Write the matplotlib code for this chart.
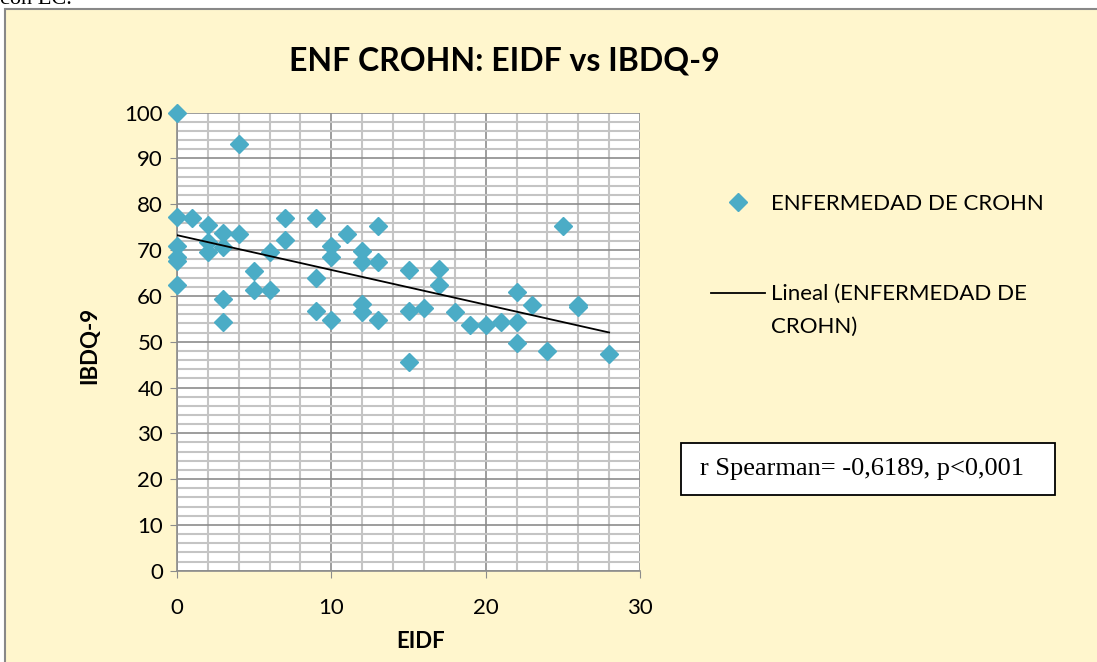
import numpy as np
import matplotlib.pyplot as plt
from matplotlib.patches import Rectangle

# EIDF (x) and IBDQ-9 (y)
eidf = [0, 4, 0, 1, 2, 3, 4, 0, 2, 2, 3, 0, 0, 0, 3, 3, 5, 5, 6, 6, 7, 7,
        9, 9, 9, 10, 10, 10, 11, 12, 12, 12, 12, 13, 13, 13, 15, 15, 15, 16,
        17, 17, 18, 19, 20, 21, 22, 22, 22, 23, 24, 25, 26, 26, 28]
ibdq = [100, 93.1, 77.2, 77, 75.4, 73.7, 73.6, 71, 71.8, 69.6, 70.7, 68.5,
        67.7, 62.3, 59.3, 54.2, 65.5, 61.3, 61.3, 69.6, 77, 72.1, 77, 63.9,
        56.8, 71, 68.5, 54.7, 73.6, 69.7, 67.4, 58.2, 56.4, 75.2, 67.5, 54.7,
        65.7, 56.8, 45.5, 57.3, 65.8, 62.4, 56.4, 53.7, 53.7, 54.3, 54.3,
        60.9, 49.7, 58, 48, 75.2, 58, 57.6, 47.3]

title = "ENF CROHN: EIDF vs IBDQ-9"
series_name = "ENFERMEDAD DE CROHN"
trend_name = "Lineal (ENFERMEDAD DE\nCROHN)"
note = "r Spearman= -0,6189, p<0,001"

plt.rcParams['font.family'] = ['Lato', 'DejaVu Sans']

W, H = 1097, 662
fig = plt.figure(figsize=(10.97, 6.62), dpi=100)
fig.patch.set_facecolor('white')

# chart frame (yellow background)
frame = Rectangle((5 / W, -0.05), 1.1, 1 - 8.5 / H + 0.05,
                  transform=fig.transFigure, facecolor='#FFF6CD',
                  edgecolor='#888888', linewidth=1.5, zorder=-1)
fig.patches.append(frame)

# cut-off text above the chart
fig.text(0.0, 1 - 4 / H, "con EC.", family='Liberation Serif', fontsize=16,
         va='baseline', ha='left')

ax = fig.add_axes([177 / W, 1 - 570.7 / H, (640 - 177) / W, (570.7 - 112.7) / H])
ax.set_zorder(1)
ax.set_facecolor('white')
ax.set_xlim(0, 30)
ax.set_ylim(0, 100)
ax.set_xticks(np.arange(0, 31, 10))
ax.set_yticks(np.arange(0, 101, 10))
ax.set_xticks(np.arange(0, 31, 2), minor=True)
ax.set_yticks(np.arange(0, 101, 2), minor=True)
ax.grid(which='minor', color='#C4C4C4', linewidth=1.5)
ax.grid(which='major', color='#8C8C8C', linewidth=1.2)
ax.set_axisbelow(True)
for s in ['top', 'right']:
    ax.spines[s].set_visible(False)
for s in ['left', 'bottom']:
    ax.spines[s].set_color('#8C8C8C')
    ax.spines[s].set_linewidth(1.2)
ax.tick_params(which='major', length=5, color='#8C8C8C', labelsize=16)
ax.tick_params(axis='y', pad=5)
ax.tick_params(axis='x', pad=15)
ax.tick_params(which='minor', length=0)

ax.plot(eidf, ibdq, 'D', color='#4BACC6', markersize=9, clip_on=False,
        label=series_name, zorder=3)

coef = np.polyfit(eidf, ibdq, 1)
xs = np.array([min(eidf), max(eidf)])
ax.plot(xs, np.polyval(coef, xs), color='black', linewidth=1.3,
        label=trend_name, zorder=4)

fig.text(504 / W, 1 - 61 / H, title, fontsize=23, fontweight='bold',
         ha='center', va='center')
ax.set_xlabel("EIDF", fontsize=16, fontweight='bold', va='center')
ax.xaxis.set_label_coords((421 - 177) / 463, (570.7 - 641) / 458)
ax.set_ylabel("IBDQ-9", fontsize=16, fontweight='bold', va='center')
ax.yaxis.set_label_coords((90 - 177) / 463, (570.7 - 345) / 458)

leg = ax.legend(loc='upper left', bbox_to_anchor=(1.134, 0.842), frameon=False,
                fontsize=16, handlelength=2.44, labelspacing=3.14,
                handletextpad=0.28, borderaxespad=0)
for t in leg.get_texts():
    t.set_linespacing(1.85)
# trendline handle sits on the first text line, as in the reference
trend_handle = leg.get_lines()[1]
trend_handle.set_ydata(np.asarray(trend_handle.get_ydata()) + 12.6)

# Spearman note box
box = Rectangle((681 / W, 1 - 495 / H), (1055 - 681) / W, 52 / H,
                transform=fig.transFigure, facecolor='white',
                edgecolor='black', linewidth=1.3, zorder=2)
fig.patches.append(box)
fig.text(700 / W, 1 - 469 / H, note, family='Liberation Serif',
         fontsize=19, va='center', ha='left', zorder=3)

fig.savefig('out.png', dpi=100, facecolor='white')
